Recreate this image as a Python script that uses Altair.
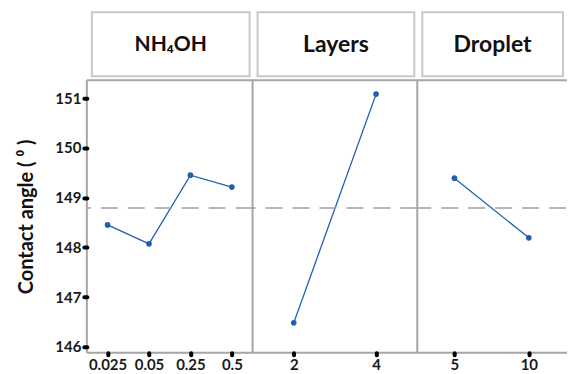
import altair as alt
import pandas as pd

# ---- data ----
nh4oh_levels = ["0.025", "0.05", "0.25", "0.5"]
nh4oh_means = [148.45, 148.07, 149.45, 149.21]
layers_levels = ["2", "4"]
layers_means = [146.48, 151.08]
droplet_levels = ["5", "10"]
droplet_means = [149.39, 148.19]
grand_mean = 148.79
y_ticks = [146, 147, 148, 149, 150, 151]
y_domain = [145.88, 151.36]

FONT = "Lato"
LINE = "#1f5fae"
FRAME = "#a6a6a6"
PANEL_H = 273


def panel(title, levels, means, show_y, width, title_size):
    df = pd.DataFrame({"level": levels, "mean": means})
    yscale = alt.Scale(domain=y_domain, nice=False, zero=False)
    if show_y:
        yax = alt.Axis(values=y_ticks, title="Contact angle ( \u2070 )", grid=False,
                       domain=False, tickColor="black", tickSize=3, tickWidth=4,
                       tickCap="round", labelFont=FONT, labelFontWeight="bold",
                       labelFontSize=15, labelColor="#1a1a1a", labelPadding=3,
                       titleFont=FONT, titleFontWeight="bold", titleFontSize=20,
                       titleColor="#111111", titlePadding=18, zindex=1)
    else:
        yax = None
    xax = alt.Axis(title=None, labelAngle=0, domain=False, tickColor="black",
                   tickSize=2, tickWidth=4, tickCap="round", labelFont=FONT,
                   labelFontWeight="bold", labelFontSize=15, labelColor="#1a1a1a",
                   labelPadding=3, grid=False, zindex=1)
    base = alt.Chart(df).encode(
        x=alt.X("level:N", sort=levels, axis=xax,
                scale=alt.Scale(type="point", padding=0.5)),
        y=alt.Y("mean:Q", scale=yscale, axis=yax),
    )
    line = base.mark_line(color=LINE, strokeWidth=1.3)
    pts = base.mark_point(color=LINE, filled=True, size=32, opacity=1)
    ref = alt.Chart(pd.DataFrame({"m": [grand_mean]})).mark_rule(
        color="#a0a0a0", strokeDash=[17, 10], strokeWidth=1.4
    ).encode(y=alt.Y("m:Q", scale=yscale, axis=yax))

    hdr_df = pd.DataFrame({"t": [title]})
    frame_left = alt.Chart(hdr_df).mark_rule(color=FRAME, strokeWidth=2).encode(
        x=alt.value(0), y=alt.value(0), y2=alt.value(PANEL_H))
    frame_top = alt.Chart(hdr_df).mark_rule(color=FRAME, strokeWidth=2).encode(
        x=alt.value(0), x2=alt.value(width + 1), y=alt.value(0))
    frame_bot = alt.Chart(hdr_df).mark_rule(color=FRAME, strokeWidth=2).encode(
        x=alt.value(0), x2=alt.value(width + 1), y=alt.value(PANEL_H))
    box = alt.Chart(hdr_df).mark_rect(fill="white", stroke="#c8c8c8", strokeWidth=2).encode(
        x=alt.value(5), x2=alt.value(width - 3), y=alt.value(-68), y2=alt.value(-4)
    )
    txt = alt.Chart(hdr_df).mark_text(font=FONT, fontWeight="bold", fontSize=title_size,
                                      color="#111111", baseline="middle").encode(
        x=alt.value(width / 2 + 1), y=alt.value(-35), text="t:N"
    )
    return alt.layer(line, pts, ref, frame_left, frame_top, frame_bot, box, txt).properties(
        width=width, height=PANEL_H)


p1 = panel("NH\u2084OH", nh4oh_levels, nh4oh_means, True, 166, 21)
p2 = panel("Layers", layers_levels, layers_means, False, 165, 23)
p3 = panel("Droplet", droplet_levels, droplet_means, False, 149, 23)

chart = alt.hconcat(p1, p2, p3, spacing=0, bounds="flush").configure_view(
    strokeWidth=0
).properties(background="white",
             padding={"left": 8, "top": 3, "right": 0, "bottom": 0})

chart.save("out.html", embed_options={"renderer": "svg", "actions": False})
